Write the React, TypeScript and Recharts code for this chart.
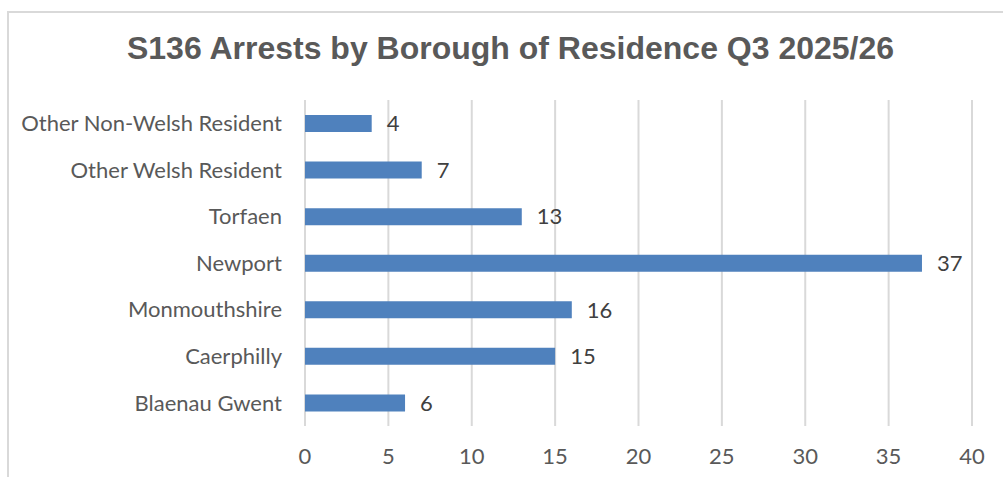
import { BarChart, Bar, XAxis, YAxis, CartesianGrid, LabelList } from "recharts";

const boroughs = [
  "Other Non-Welsh Resident",
  "Other Welsh Resident",
  "Torfaen",
  "Newport",
  "Monmouthshire",
  "Caerphilly",
  "Blaenau Gwent",
];
const arrests = [4, 7, 13, 37, 16, 15, 6];
const xTicks = [0, 5, 10, 15, 20, 25, 30, 35, 40];

const data = boroughs.map((name, i) => ({ name, arrests: arrests[i] }));

const labelFont = "Lato, 'Open Sans', sans-serif";

export default function App() {
  return (
    <div style={{ position: "absolute", left: 0, top: 0, width: 1003, height: 477, background: "#fff", overflow: "hidden" }}>
      {/* chart frame, runs off the right and bottom edge */}
      <div
        style={{
          position: "absolute",
          left: 7,
          top: 11,
          width: 1100,
          height: 600,
          border: "2px solid #d9d9d9",
          boxSizing: "border-box",
        }}
      />
      <div
        style={{
          position: "absolute",
          left: 0,
          top: 28,
          width: 1021,
          textAlign: "center",
          fontFamily: "'Liberation Sans', Arial, sans-serif",
          fontWeight: 700,
          fontSize: 32,
          lineHeight: "40px",
          color: "#595959",
        }}
      >
        S136 Arrests by Borough of Residence Q3 2025/26
      </div>
      <div style={{ position: "absolute", left: 0, top: 0 }}>
        <BarChart
          width={1003}
          height={477}
          data={data}
          layout="vertical"
          margin={{ top: 100, right: 31, bottom: 21, left: 0 }}
          barSize={17}
        >
          <CartesianGrid horizontal={false} stroke="#d9d9d9" strokeWidth={2} />
          <XAxis
            type="number"
            domain={[0, 40]}
            ticks={xTicks}
            interval={0}
            height={30}
            axisLine={false}
            tickLine={false}
            tickSize={0}
            tickMargin={22}
            tick={{ fill: "#595959", fontSize: 22, fontFamily: labelFont }}
          />
          <YAxis
            type="category"
            dataKey="name"
            width={305}
            axisLine={false}
            tickLine={false}
            tickSize={0}
            tickMargin={23}
            interval={0}
            tick={{ fill: "#595959", fontSize: 22, fontFamily: labelFont }}
          />
          <Bar dataKey="arrests" fill="#4f81bd" isAnimationActive={false}>
            <LabelList
              dataKey="arrests"
              position="right"
              offset={15}
              style={{ fill: "#404040", fontSize: 22, fontFamily: labelFont }}
            />
          </Bar>
        </BarChart>
      </div>
    </div>
  );
}
